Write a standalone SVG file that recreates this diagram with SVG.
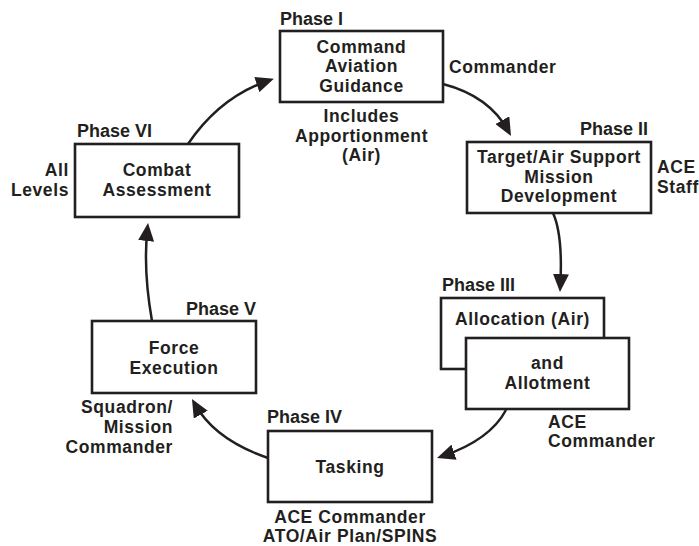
<svg xmlns="http://www.w3.org/2000/svg" width="699" height="546" viewBox="0 0 699 546">
<style>
.box{fill:#fff;stroke:#231f20;stroke-width:2.6}
text{font-family:"Liberation Sans",Arial,Helvetica,sans-serif;font-weight:bold;fill:#231f20;font-size:17.5px;letter-spacing:0.6px}
.ph{font-size:18px;letter-spacing:0}
.c{text-anchor:middle}
.e{text-anchor:end}
.con{fill:none;stroke:#231f20;stroke-width:2.5;marker-end:url(#ah)}
</style>
<defs>
<marker id="ah" viewBox="0 0 18 16" refX="12" refY="8" markerWidth="18" markerHeight="16" markerUnits="userSpaceOnUse" orient="auto">
<path d="M0,0 L18,8 L0,16 z" fill="#231f20"/>
</marker>
</defs>
<rect width="699" height="546" fill="#fff"/>
<g id="connectors">
<path class="con" d="M443,84 Q489,96 508.1,130.7"/>
<path class="con" d="M553,213 Q563,235 560.3,286"/>
<path class="con" d="M506,410 Q490,440 442.7,456.1"/>
<path class="con" d="M268,458 Q215,440 194.9,404.2"/>
<path class="con" d="M152,321 Q143,270 147.4,229"/>
<path class="con" d="M188,144 Q220,97 268.2,80.7"/>
</g>
<g id="phase1">
<text class="ph" x="280" y="25">Phase I</text>
<rect class="box" x="280" y="31" width="163" height="71"/>
<text class="c" x="361.5" y="52.7">Command</text>
<text class="c" x="361.5" y="72.3">Aviation</text>
<text class="c" x="361.5" y="91.9">Guidance</text>
<text x="449" y="73">Commander</text>
<text class="c" x="361.5" y="121.9">Includes</text>
<text class="c" x="361.5" y="141.5">Apportionment</text>
<text class="c" x="361.5" y="161.1">(Air)</text>
</g>
<g id="phase2">
<text class="ph e" x="648" y="135">Phase II</text>
<rect class="box" x="467" y="142" width="184" height="71"/>
<text class="c" x="559" y="163.2">Target/Air Support</text>
<text class="c" x="559" y="182.8">Mission</text>
<text class="c" x="559" y="202.4">Development</text>
<text x="657" y="173">ACE</text>
<text x="657" y="192.6">Staff</text>
</g>
<g id="phase3">
<text class="ph" x="442" y="290.5">Phase III</text>
<rect class="box" x="441" y="298" width="163" height="71"/>
<text class="c" x="522.5" y="325">Allocation (Air)</text>
<rect class="box" x="466" y="338" width="163" height="71"/>
<text class="c" x="547.5" y="369.4">and</text>
<text class="c" x="547.5" y="389">Allotment</text>
<text x="548" y="427.7">ACE</text>
<text x="548" y="447.3">Commander</text>
</g>
<g id="phase4">
<text class="ph" x="267" y="423">Phase IV</text>
<rect class="box" x="268" y="431" width="164" height="71"/>
<text class="c" x="350" y="473">Tasking</text>
<text class="c" x="350" y="522.6">ACE Commander</text>
<text class="c" x="350" y="542.2">ATO/Air Plan/SPINS</text>
</g>
<g id="phase5">
<text class="ph e" x="256" y="315">Phase V</text>
<rect class="box" x="92" y="321" width="164" height="72"/>
<text class="c" x="174" y="354.2">Force</text>
<text class="c" x="174" y="373.8">Execution</text>
<text class="e" x="173" y="413.4">Squadron/</text>
<text class="e" x="173" y="433">Mission</text>
<text class="e" x="173" y="452.6">Commander</text>
</g>
<g id="phase6">
<text class="ph" x="77" y="137">Phase VI</text>
<rect class="box" x="75" y="144" width="164" height="73"/>
<text class="c" x="157" y="176.2">Combat</text>
<text class="c" x="157" y="195.8">Assessment</text>
<text class="e" x="69" y="176.2">All</text>
<text class="e" x="69" y="195.8">Levels</text>
</g>
</svg>
